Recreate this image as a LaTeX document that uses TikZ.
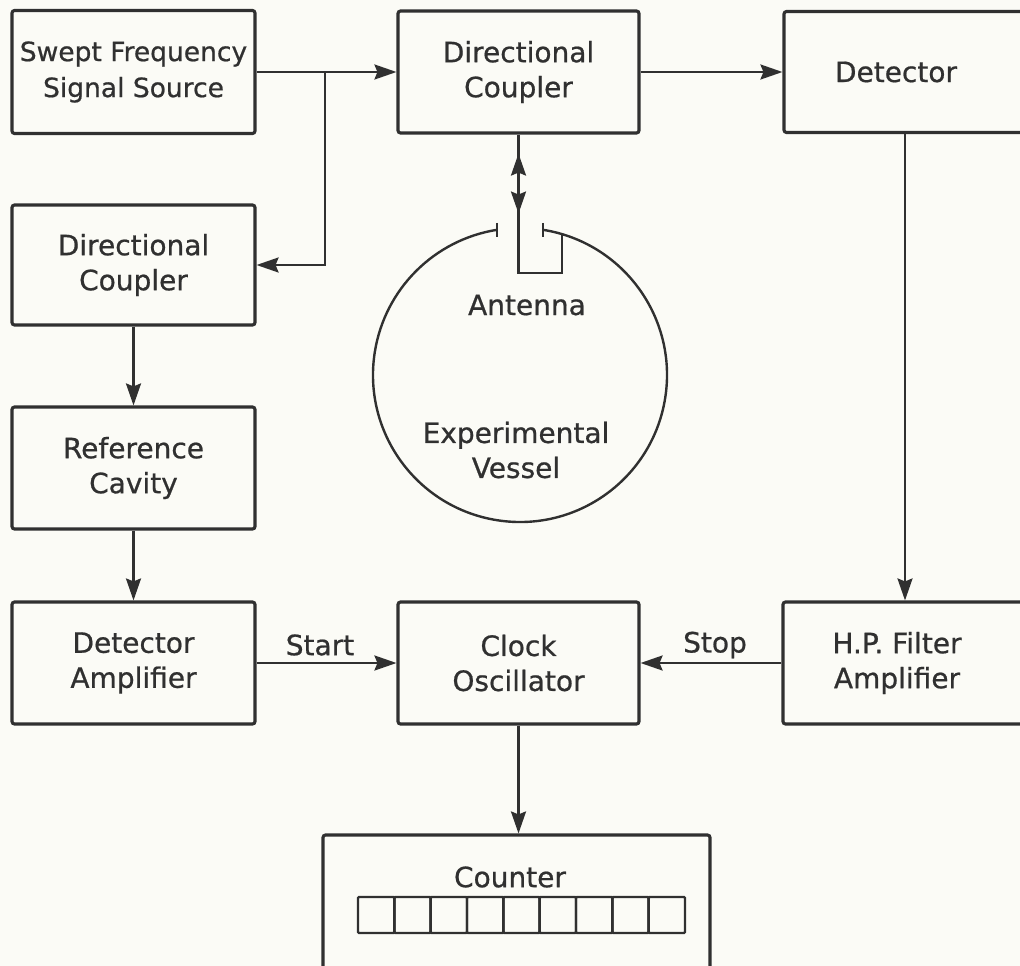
\documentclass[tikz,border=0pt]{standalone}
\usepackage{fontspec}
\setmainfont{DejaVu Sans}[BoldFont=DejaVu Sans, BoldFeatures={FakeBold=0.7}]
\usetikzlibrary{arrows.meta,calc}
\definecolor{ink}{RGB}{48,48,48}
\definecolor{paper}{RGB}{251,251,246}

\begin{document}
\begin{tikzpicture}[x=1pt,y=-1pt,
  box/.style={draw=ink, line width=3.1pt, rounded corners=2.5pt, align=center,
    inner sep=0pt, text=ink, font=\fontsize{28}{35}\selectfont\bfseries},
  srcfont/.style={font=\fontsize{26.5}{36}\selectfont\bfseries},
  wire/.style={draw=ink, line width=2.4pt},
  tip/.tip={Stealth[length=22pt,width=15pt,inset=3pt]},
  arr/.style={wire, -tip},
  lbl/.style={text=ink, inner sep=0pt, align=center, font=\fontsize{28}{35}\selectfont\bfseries},
]
% sheet
\fill[paper] (0,0) rectangle (1020,966);
\useasboundingbox (0,0) rectangle (1020,966);

% ---- blocks ----
\node[box, srcfont, minimum width=243pt, minimum height=123pt] (src) at (133.5,72) {Swept Frequency\\Signal Source};
\node[box, minimum width=241pt, minimum height=122pt] (dcA) at (518.5,72) {Directional\\Coupler};
\node[box, minimum width=242pt, minimum height=121pt] (det) at (905,72) {Detector\hspace*{18pt}};

\node[box, minimum width=243pt, minimum height=120pt] (dcB) at (133.5,265) {Directional\\Coupler};
\node[box, minimum width=243pt, minimum height=122pt] (ref) at (133.5,468) {Reference\\Cavity};

\node[box, minimum width=243pt, minimum height=122pt] (damp) at (133.5,663) {Detector\\Amplifier};
\node[box, minimum width=241pt, minimum height=122pt] (clk) at (518.5,663) {Clock\\Oscillator};
\node[box, minimum width=244pt, minimum height=122pt] (hp) at (905,663) {H.P. Filter\hspace*{16pt}\\Amplifier\hspace*{16pt}};

\node[box, minimum width=387pt, minimum height=160pt] (ctr) at (516.5,915) {};
\node[lbl] (ctrlbl) at (510,877) {Counter};

% counter display: nine digit cells
\foreach \i in {0,...,8}{
  \draw[ink, line width=2.4pt, rounded corners=1pt]
    ({358+\i*36.33},897) rectangle ({358+(\i+1)*36.33},933);
}

% ---- experimental vessel with antenna ----
\coordinate (vc) at (520,375);
\coordinate (gapR) at ($(vc)+(279:147)$);
\coordinate (gapL) at ($(vc)+(261:147)$);
\draw[wire] (gapR) arc[start angle=279, end angle=621, radius=147];
\draw[wire] ([yshift=7pt]gapL) -- ([yshift=-7pt]gapL);
\draw[wire] ([yshift=7pt]gapR) -- ([yshift=-7pt]gapR);

\coordinate (antfoot) at (518.5,273);
\coordinate (antend) at (562,234);
\draw[wire] (dcA.south) -- (antfoot) -| (antend);
\draw[wire, tip-tip] ([yshift=-19pt]dcA.south) -- ([yshift=-79pt]dcA.south);

\node[lbl] (antlbl) at (527,305) {Antenna};
\node[lbl] (vessel) at (516,450) {Experimental\\Vessel};

% ---- signal paths ----
\draw[arr] (src.east) -- (dcA.west);
\coordinate (br) at (325,72);
\draw[arr] (br) |- (dcB.east);
\draw[arr] (dcA.east) -- (det.west);
\draw[arr] (det.south) -- (hp.north);

\draw[arr] (dcB.south) -- (dcB.south |- ref.north);
\draw[arr] (ref.south) -- (ref.south |- damp.north);

\draw[arr] (damp.east) -- (clk.west);
\draw[arr] (hp.west) -- (clk.east);
\draw[arr] (clk.south) -- (clk.south |- ctr.north);

\node[lbl] (start) at (320,645) {Start};
\node[lbl] (stop) at (715,645) {Stop};
\end{tikzpicture}
\end{document}
